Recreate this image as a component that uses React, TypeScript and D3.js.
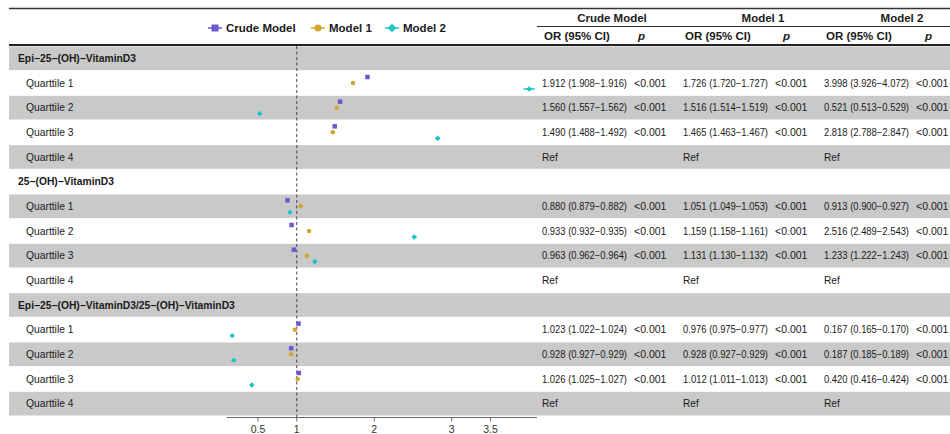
import React from "react";
import * as d3 from "d3";

const groups = [
  "Epi−25−(OH)−VitaminD3",
  "25−(OH)−VitaminD3",
  "Epi−25−(OH)−VitaminD3/25−(OH)−VitaminD3",
];
const quartiles = ["Quarttile 1", "Quarttile 2", "Quarttile 3", "Quarttile 4"];

// one entry per quartile row (3 groups x 4 quartiles), null = Ref
const crudeEst = [1.912, 1.56, 1.49, null, 0.88, 0.933, 0.963, null, 1.023, 0.928, 1.026, null];
const crudeLo = [1.908, 1.557, 1.488, null, 0.879, 0.932, 0.962, null, 1.022, 0.927, 1.025, null];
const crudeHi = [1.916, 1.562, 1.492, null, 0.882, 0.935, 0.964, null, 1.024, 0.929, 1.027, null];

const m1Est = [1.726, 1.516, 1.465, null, 1.051, 1.159, 1.131, null, 0.976, 0.928, 1.012, null];
const m1Lo = [1.72, 1.514, 1.463, null, 1.049, 1.158, 1.13, null, 0.975, 0.927, 1.011, null];
const m1Hi = [1.727, 1.519, 1.467, null, 1.053, 1.161, 1.132, null, 0.977, 0.929, 1.013, null];

const m2Est = [3.998, 0.521, 2.818, null, 0.913, 2.516, 1.233, null, 0.167, 0.187, 0.42, null];
const m2Lo = [3.926, 0.513, 2.788, null, 0.9, 2.489, 1.222, null, 0.165, 0.185, 0.416, null];
const m2Hi = [4.072, 0.529, 2.847, null, 0.927, 2.543, 1.243, null, 0.17, 0.189, 0.424, null];

const pValues = ["<0.001", "<0.001", "<0.001", null, "<0.001", "<0.001", "<0.001", null, "<0.001", "<0.001", "<0.001", null];

const models = ["Crude Model", "Model 1", "Model 2"];
const xTicks = [0.5, 1, 2, 3, 3.5];

const FONT = "'Liberation Sans', Arial, sans-serif";
const GRAY = "#c9c9c9";
const colors = ["#6a5acd", "#d4a52c", "#17c3c6"];

const fmt = (e: number, lo: number, hi: number) =>
  `${e.toFixed(3)} (${lo.toFixed(3)}−${hi.toFixed(3)})`;

function Marker({ kind, x, y, s }: { kind: number; x: number; y: number; s: number }) {
  if (kind === 0)
    return <rect x={x - s / 2} y={y - s / 2} width={s} height={s} fill={colors[0]} />;
  if (kind === 1) return <circle cx={x} cy={y} r={s / 2} fill={colors[1]} />;
  const h = s * 0.6;
  return (
    <path
      d={`M${x},${y - h} L${x + h},${y} L${x},${y + h} L${x - h},${y} Z`}
      fill={colors[2]}
    />
  );
}

export default function App() {
  const width = 950;
  const height = 434;

  // build the rows: group header then 4 quartiles
  const rows: { label: string; header: boolean; idx: number | null }[] = [];
  groups.forEach((g, gi) => {
    rows.push({ label: g, header: true, idx: null });
    quartiles.forEach((q, qi) => rows.push({ label: q, header: false, idx: gi * 4 + qi }));
  });

  const y = d3.scaleBand<number>().domain(d3.range(rows.length)).range([46, 416]);
  const x = d3.scaleLinear().domain([0.1, 4.1]).range([227, 537]);
  const bw = y.bandwidth();

  const est = [crudeEst, m1Est, m2Est];
  const lo = [crudeLo, m1Lo, m2Lo];
  const hi = [crudeHi, m1Hi, m2Hi];
  const offsets = [-6, 0, 6];

  const orX = [542, 683, 824];
  const pX = [634, 775, 916];
  const headCx = [612, 763, 902];
  const pHeadX = [638, 783, 925];

  const legendX = [215, 318, 392];

  return (
    <div style={{ position: "absolute", left: 0, top: 0 }}>
      <svg width={width} height={height} style={{ display: "block", fontFamily: FONT }}>
        <rect width={width} height={height} fill="#fff" />

        {/* row backgrounds */}
        {rows.map((r, i) =>
          i % 2 === 0 ? (
            <rect key={i} x={9} y={y(i)! + 0.5} width={width} height={bw - 1} fill={GRAY} />
          ) : null
        )}

        {/* top rules */}
        <line x1={9} x2={width} y1={8.5} y2={8.5} stroke="#333" strokeWidth={1.5} />
        <line x1={537} x2={width} y1={26.5} y2={26.5} stroke="#333" strokeWidth={1} />
        <line x1={9} x2={width} y1={45} y2={45} stroke="#222" strokeWidth={2} />

        {/* legend */}
        {models.map((m, k) => (
          <g key={m}>
            <line
              x1={legendX[k] - 7}
              x2={legendX[k] + 7}
              y1={28}
              y2={28}
              stroke={colors[k]}
              strokeWidth={1.5}
            />
            <Marker kind={k} x={legendX[k]} y={28} s={7} />
            <text x={legendX[k] + 11} y={32} fontSize={11.5} fontWeight="bold" fill="#1a1a1a">
              {m}
            </text>
          </g>
        ))}

        {/* table headers */}
        {models.map((m, k) => (
          <g key={"h" + m}>
            <text x={headCx[k]} y={22} fontSize={11.5} fontWeight="bold" textAnchor="middle" fill="#1a1a1a">
              {m}
            </text>
            <text x={orX[k] + 2} y={40} fontSize={11.5} fontWeight="bold" fill="#1a1a1a">
              OR (95% CI)
            </text>
            <text x={pHeadX[k]} y={40} fontSize={11.5} fontWeight="bold" fontStyle="italic" fill="#1a1a1a">
              p
            </text>
          </g>
        ))}

        {/* row labels and table cells */}
        {rows.map((r, i) => {
          const cy = y(i)! + bw / 2;
          return (
            <g key={"r" + i}>
              <text
                x={r.header ? 18 : 26}
                y={cy + 3.8}
                fontSize={10.3}
                fontWeight={r.header ? "bold" : "normal"}
                fill="#1a1a1a"
              >
                {r.label}
              </text>
              {r.idx !== null &&
                models.map((m, k) => {
                  const e = est[k][r.idx!];
                  const ref = e === null;
                  const txt = ref ? "Ref" : fmt(e, lo[k][r.idx!]!, hi[k][r.idx!]!);
                  return (
                    <g key={m}>
                      <text
                        x={orX[k]}
                        y={cy + 3.8}
                        fontSize={10.2}
                        fill="#1a1a1a"
                        textLength={ref ? undefined : 85}
                        lengthAdjust="spacingAndGlyphs"
                      >
                        {txt}
                      </text>
                      {pValues[r.idx!] && (
                        <text x={pX[k]} y={cy + 3.8} fontSize={10.5} fill="#1a1a1a">
                          {pValues[r.idx!]}
                        </text>
                      )}
                    </g>
                  );
                })}
            </g>
          );
        })}

        {/* reference line */}
        <line
          x1={x(1)}
          x2={x(1)}
          y1={46}
          y2={417}
          stroke="#444"
          strokeWidth={1}
          strokeDasharray="3,2.5"
        />

        {/* estimates */}
        {rows.map((r, i) => {
          if (r.idx === null) return null;
          const cy = y(i)! + bw / 2;
          return (
            <g key={"p" + i}>
              {models.map((m, k) => {
                const e = est[k][r.idx!];
                if (e === null) return null;
                const yy = cy + offsets[k];
                return (
                  <g key={m}>
                    <line
                      x1={x(lo[k][r.idx!]!)}
                      x2={x(hi[k][r.idx!]!)}
                      y1={yy}
                      y2={yy}
                      stroke={colors[k]}
                      strokeWidth={1.5}
                    />
                    <Marker kind={k} x={x(e)} y={yy} s={4.5} />
                  </g>
                );
              })}
            </g>
          );
        })}

        {/* x axis */}
        <line x1={227} x2={537} y1={417.5} y2={417.5} stroke="#666" strokeWidth={1} />
        {xTicks.map((t) => (
          <g key={t}>
            <line x1={x(t)} x2={x(t)} y1={417.5} y2={421.5} stroke="#666" />
            <text x={x(t)} y={433} fontSize={10.5} textAnchor="middle" fill="#333">
              {t}
            </text>
          </g>
        ))}
      </svg>
    </div>
  );
}
